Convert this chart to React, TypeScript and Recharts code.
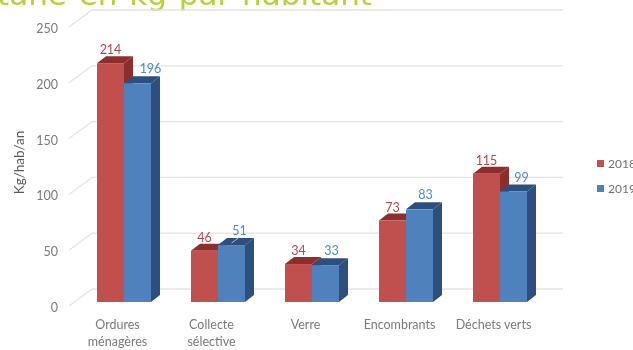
import { BarChart, Bar, XAxis, YAxis, CartesianGrid, Legend, LabelList } from "recharts";

const categories = ["Ordures ménagères", "Collecte sélective", "Verre", "Encombrants", "Déchets verts"];
const values2018 = [214, 46, 34, 73, 115];
const values2019 = [196, 51, 33, 83, 99];
const yTicks = [0, 50, 100, 150, 200, 250];

const data = categories.map((name, i) => ({ name, y2018: values2018[i], y2019: values2019[i] }));

const FONT = "Lato, 'Open Sans', sans-serif";
const DEPTH_X = 9;
const DEPTH_Y = 7;
// the picture's axis labels sit off-centre from their bars
const X_LABEL_LINES: Record<string, string[]> = {
  "Ordures ménagères": ["Ordures", "ménagères"],
  "Collecte sélective": ["Collecte", "sélective"],
};
const BLUE_LABEL_NUDGE = [13, 8, 6, 6, 8];

const Box3D = ({ x, y, width, height, fill, dark }: any) => (
  <g>
    <polygon
      points={`${x},${y} ${x + DEPTH_X},${y - DEPTH_Y} ${x + width + DEPTH_X},${y - DEPTH_Y} ${x + width},${y}`}
      fill={dark}
    />
    <polygon
      points={`${x + width},${y} ${x + width + DEPTH_X},${y - DEPTH_Y} ${x + width + DEPTH_X},${y + height - DEPTH_Y} ${x + width},${y + height}`}
      fill={dark}
    />
    <rect x={x} y={y} width={width} height={height} fill={fill} />
  </g>
);

// gridline on the back wall plus the diagonal on the chart's floor/side
const GridLine = ({ x1, x2, y1 }: any) => (
  <polyline
    points={`${x1 - 8},${y1 + 4} ${x1 + 15},${y1 - 13} ${x2 + 16},${y1 - 13}`}
    fill="none"
    stroke="#e4e4e4"
    strokeWidth={1.3}
  />
);

const XTick = ({ x, y, payload }: any) => {
  const lines = X_LABEL_LINES[payload.value] ?? [payload.value];
  return (
    <text x={x - 6.5} y={y + 19} textAnchor="middle" fontFamily={FONT} fontSize={12.5} fill="#7a7a7a">
      {lines.map((line: string, i: number) => (
        <tspan key={line} x={x - 6.5} dy={i === 0 ? 0 : 17}>{line}</tspan>
      ))}
    </text>
  );
};

const YTick = ({ x, y, payload }: any) => (
  <text x={x - 2} y={y + 10} textAnchor="end" fontFamily={FONT} fontSize={12.5} fill="#7a7a7a">
    {payload.value}
  </text>
);

const RedLabel = ({ x, y, width, value }: any) => (
  <text x={x + width / 2} y={y - 9} textAnchor="middle" fontFamily={FONT} fontSize={12.5} fill="#b5474a">
    {value}
  </text>
);

const BlueLabel = ({ x, y, width, value, index }: any) => {
  const cx = x + width / 2 + BLUE_LABEL_NUDGE[index];
  return (
    <g>
      {index === 1 && <line x1={cx - 8} y1={y - 2} x2={cx} y2={y - 8} stroke="#a9bdd6" strokeWidth={1} />}
      <text x={cx} y={y - 10} textAnchor="middle" fontFamily={FONT} fontSize={12.5} fill="#4a8ec2">
        {value}
      </text>
    </g>
  );
};

const LegendList = ({ payload }: any) => (
  <div style={{ fontFamily: FONT, fontSize: 12, color: "#6f6f6f" }}>
    {payload.map((p: any) => (
      <div key={p.value} style={{ display: "flex", alignItems: "center", height: 25, whiteSpace: "nowrap" }}>
        <span style={{ width: 7, height: 7, background: p.color, marginRight: 4 }} />
        {p.value}
      </div>
    ))}
  </div>
);

export default function App() {
  return (
    <div style={{ position: "absolute", left: 0, top: 0, width: 633, height: 350, overflow: "hidden", background: "#fff", filter: "blur(0.5px)" }}>
      <div
        style={{
          position: "absolute", left: -3, top: -24, whiteSpace: "nowrap", wordSpacing: 2,
          fontFamily: "'DejaVu Sans', sans-serif", fontSize: 31, color: "#b3d23c",
        }}
      >
        tane en kg par habitant
      </div>
      <BarChart
        width={633}
        height={350}
        data={data}
        barSize={27}
        barGap={0}
        margin={{ top: 23, right: 26, bottom: 0, left: 0 }}
        style={{ position: "absolute", left: 0, top: 0 }}
      >
        <CartesianGrid vertical={false} horizontal={(props: any) => <GridLine key={props.key} {...props} />} />
        <XAxis dataKey="name" height={48} axisLine={false} tickLine={false} interval={0} tick={<XTick />} />
        <YAxis
          domain={[0, 250]}
          ticks={yTicks}
          width={77}
          axisLine={false}
          tickLine={false}
          tickMargin={11}
          tick={<YTick />}
          label={{ value: "Kg/hab/an", angle: -90, position: "insideLeft", offset: 19, textAnchor: "middle", fill: "#595959", fontSize: 13.5, fontFamily: FONT }}
        />
        <Legend
          layout="vertical"
          align="right"
          verticalAlign="top"
          wrapperStyle={{ left: 597, top: 151, width: 60, right: "auto" }}
          content={<LegendList />}
        />
        <Bar dataKey="y2018" name="2018" fill="#c0504d" isAnimationActive={false} shape={<Box3D dark="#8c2f2c" />}>
          <LabelList dataKey="y2018" content={<RedLabel />} />
        </Bar>
        <Bar dataKey="y2019" name="2019" fill="#4f81bd" isAnimationActive={false} shape={<Box3D dark="#2d4f7d" />}>
          <LabelList dataKey="y2019" content={<BlueLabel />} />
        </Bar>
      </BarChart>
    </div>
  );
}
